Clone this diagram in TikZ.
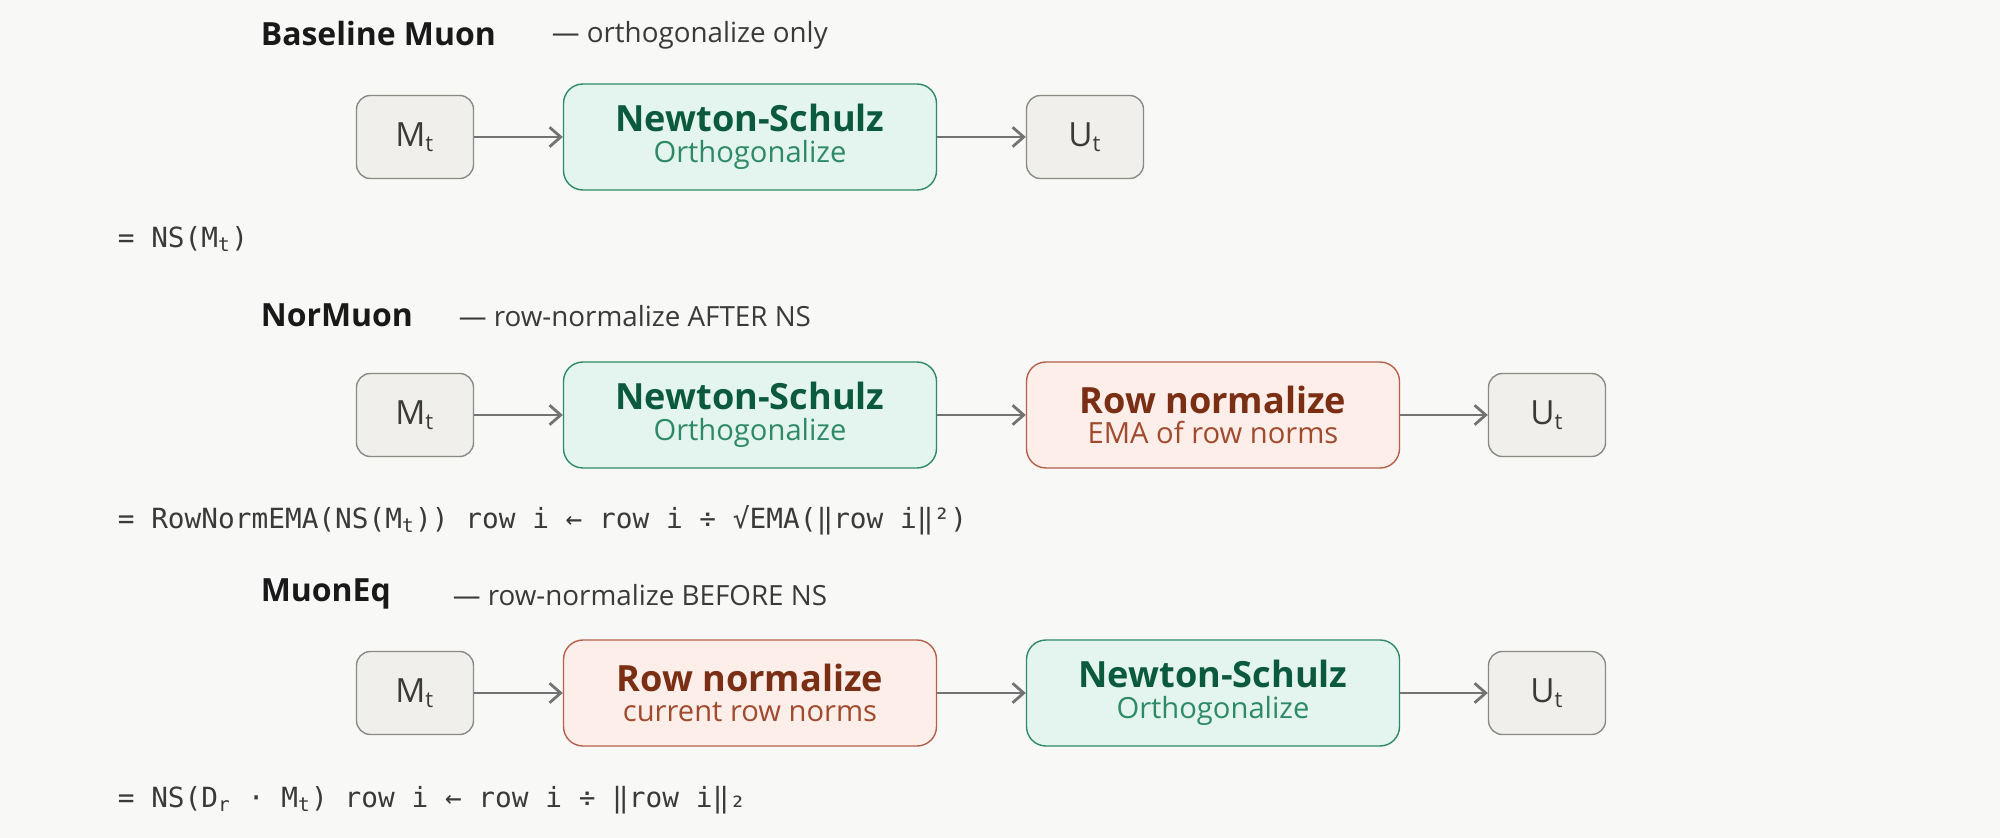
\documentclass[tikz,border=0pt]{standalone}
\usepackage{fontspec}
\setmainfont{Open Sans}
\setmonofont{DejaVu Sans Mono}
\usetikzlibrary{positioning,arrows.meta}
\definecolor{bg}{HTML}{F8F8F6}
\definecolor{grayfill}{HTML}{F0EFEB}
\definecolor{grayline}{HTML}{8A8A85}
\definecolor{greenfill}{HTML}{E3F5EE}
\definecolor{greenline}{HTML}{2E8A66}
\definecolor{greendark}{HTML}{0B5A3E}
\definecolor{redfill}{HTML}{FDEEE9}
\definecolor{redline}{HTML}{B5604A}
\definecolor{reddark}{HTML}{7A2E14}
\definecolor{redsub}{HTML}{A04A2E}
\definecolor{txt}{HTML}{3A3A38}
\tikzset{
  termbox/.style={draw=grayline,fill=grayfill,rounded corners=5pt,line width=0.5pt,
    minimum width=117*0.36pt,minimum height=83*0.36pt,font=\fontsize{12}{14}\selectfont,text=txt},
  nsbox/.style={draw=greenline,fill=greenfill,rounded corners=7pt,line width=0.5pt,
    minimum width=373*0.36pt,minimum height=106*0.36pt,align=center},
  rowbox/.style={draw=redline,fill=redfill,rounded corners=7pt,line width=0.5pt,
    minimum width=373*0.36pt,minimum height=106*0.36pt,align=center},
  flow/.style={-{Straight Barb[length=4pt,width=7pt]},draw=gray!90!black,line width=1pt},
  heading/.style={anchor=west,font=\fontsize{11.5}{13}\selectfont\bfseries,text=black!90},
  note/.style={anchor=west,font=\fontsize{10}{12}\selectfont,text=txt},
  formula/.style={anchor=west,font=\ttfamily\fontsize{10}{12}\selectfont,text=txt}
}
\newcommand{\nstext}{{\fontsize{13}{15}\selectfont\bfseries\color{greendark}Newton-Schulz}\\[-1pt]{\fontsize{10.5}{12}\selectfont\color{greenline}Orthogonalize}}
\newcommand{\rowtext}[1]{{\fontsize{13}{15}\selectfont\bfseries\color{reddark}Row normalize}\\[-1pt]{\fontsize{10.5}{12}\selectfont\color{redsub}#1}}
\newcommand{\Mt}{M\textsubscript{t}}
\newcommand{\Ut}{U\textsubscript{t}}
\begin{document}
\begin{tikzpicture}[x=0.36pt,y=0.36pt,yscale=-1]
\fill[bg] (0,0) rectangle (2000,838);

% Baseline Muon
\node[heading] (hA) at (251,34) {Baseline Muon};
\node[note] (dA) at (542,35) {— orthogonalize only};
\node[termbox] (mA) at (415,137) {\Mt};
\node[nsbox] (nsA) at (750,137) {\nstext};
\node[termbox] (uA) at (1085,137) {\Ut};
\draw[flow] (mA) -- (nsA);
\draw[flow] (nsA) -- (uA);
\node[formula] (fA) at (108,239) {= NS(\Mt)};

% NorMuon
\node[heading] (hB) at (251,315) {NorMuon};
\node[note] (dB) at (449,316) {— row-normalize AFTER NS};
\node[termbox] (mB) at (415,415) {\Mt};
\node[nsbox] (nsB) at (750,415) {\nstext};
\node[rowbox] (rB) at (1213,415) {\rowtext{EMA of row norms}};
\node[termbox] (uB) at (1547,415) {\Ut};
\draw[flow] (mB) -- (nsB);
\draw[flow] (nsB) -- (rB);
\draw[flow] (rB) -- (uB);
\node[formula] (fB) at (108,520) {= RowNormEMA(NS(\Mt)) row i ← row i ÷ √EMA(‖row i‖²)};

% MuonEq
\node[heading] (hC) at (251,594) {MuonEq};
\node[note] (dC) at (443,595) {— row-normalize BEFORE NS};
\node[termbox] (mC) at (415,693) {\Mt};
\node[rowbox] (rC) at (750,693) {\rowtext{current row norms}};
\node[nsbox] (nsC) at (1213,693) {\nstext};
\node[termbox] (uC) at (1547,693) {\Ut};
\draw[flow] (mC) -- (rC);
\draw[flow] (rC) -- (nsC);
\draw[flow] (nsC) -- (uC);
\node[formula] (fC) at (108,800) {= NS(D\textsubscript{r} · \Mt) row i ← row i ÷ ‖row i‖₂};
\end{tikzpicture}
\end{document}
